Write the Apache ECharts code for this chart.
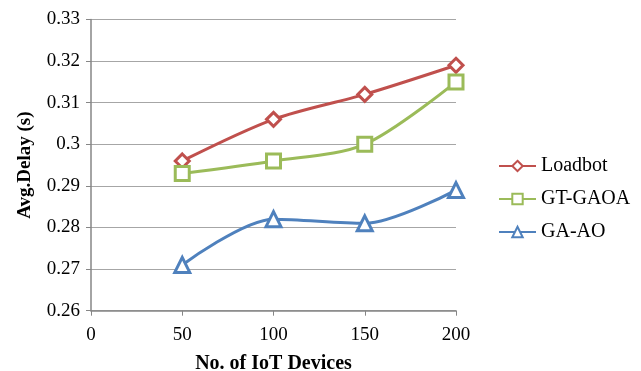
<!DOCTYPE html>
<html>
<head>
<meta charset="utf-8">
<script src="https://cdn.jsdelivr.net/npm/echarts@6/dist/echarts.min.js"></script>
<style>
  html, body { margin: 0; padding: 0; background: #fff; }
  #chart { width: 641px; height: 371px; }
</style>
</head>
<body>
<div id="chart"></div>
<script>
// Number of IoT devices on the x axis
const devices = [50, 100, 150, 200];
// Average delay (s) per scheme
const loadbot = [0.296, 0.306, 0.312, 0.319];
const gtGaoa = [0.293, 0.296, 0.300, 0.315];
const gaAo = [0.271, 0.282, 0.281, 0.289];
const seriesNames = ['Loadbot', 'GT-GAOA', 'GA-AO'];

const font = 'Liberation Serif, Times New Roman, serif';
const axisGray = '#868686';

function pairs(values) {
  return devices.map((d, i) => [d, values[i]]);
}

function lineSeries(name, values, color, symbol, size) {
  return {
    name: name,
    type: 'line',
    data: pairs(values),
    smooth: 0.3,
    symbol: symbol,
    symbolSize: size,
    lineStyle: { color: color, width: 3 },
    itemStyle: { color: '#fff', borderColor: color, borderWidth: 3 },
    emphasis: { disabled: true }
  };
}

const chart = echarts.init(document.getElementById('chart'), null, { renderer: 'canvas' });
chart.setOption({
  animation: false,
  backgroundColor: '#fff',
  grid: {
    left: 91, right: 185, top: 19.5, bottom: 60.3,
    containLabel: false,
    outerBoundsMode: 'none'
  },
  legend: {
    orient: 'vertical',
    left: 493,
    top: 151,
    itemWidth: 37,
    itemHeight: 13,
    itemGap: 13,
    data: seriesNames,
    textStyle: { fontFamily: font, fontSize: 20, color: '#000' }
  },
  xAxis: {
    type: 'value',
    min: 0,
    max: 200,
    interval: 50,
    name: 'No. of IoT Devices',
    nameLocation: 'middle',
    nameGap: 43,
    nameTextStyle: { fontFamily: font, fontSize: 20, fontWeight: 'bold', color: '#000' },
    axisLine: { show: true, lineStyle: { color: axisGray, width: 1.5 } },
    axisTick: { show: true, inside: false, length: 5, lineStyle: { color: axisGray } },
    axisLabel: { fontFamily: font, fontSize: 19, color: '#000', margin: 15 },
    splitLine: { show: false }
  },
  yAxis: {
    type: 'value',
    min: 0.26,
    max: 0.33,
    interval: 0.01,
    name: 'Avg.Delay (s)',
    nameLocation: 'middle',
    nameGap: 56,
    nameRotate: 90,
    nameTextStyle: { fontFamily: font, fontSize: 19, fontWeight: 'bold', color: '#000' },
    axisLine: { show: true, lineStyle: { color: axisGray, width: 1.5 } },
    axisTick: { show: true, inside: false, length: 5, lineStyle: { color: axisGray } },
    axisLabel: {
      fontFamily: font, fontSize: 19, color: '#000', margin: 11,
      formatter: v => String(parseFloat(v.toFixed(2)))
    },
    splitLine: { show: true, lineStyle: { color: '#a6a6a6', width: 1 } }
  },
  series: [
    lineSeries('Loadbot', loadbot, '#c0504d', 'diamond', 14),
    lineSeries('GT-GAOA', gtGaoa, '#9bbb59', 'rect', 14),
    lineSeries('GA-AO', gaAo, '#4f81bd', 'triangle', 15)
  ]
});
</script>
</body>
</html>
